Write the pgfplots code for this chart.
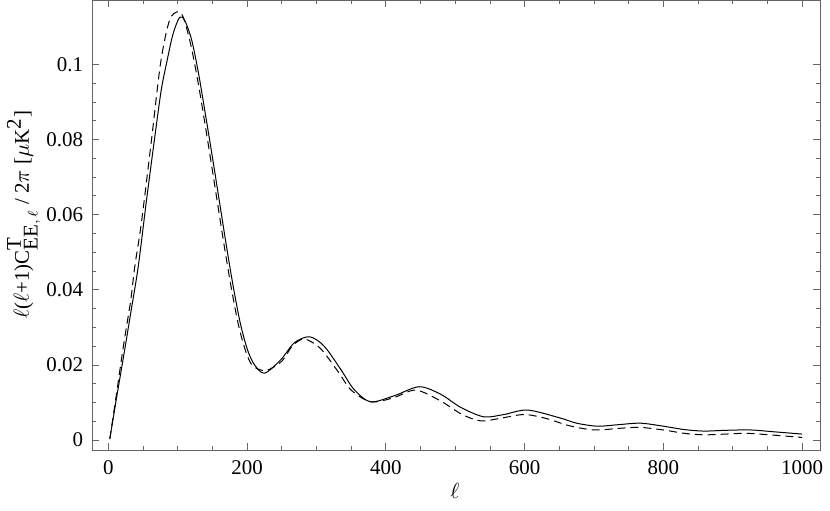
\documentclass[border=0pt]{standalone}
\usepackage{fontspec}
\setmainfont{Liberation Serif}
\usepackage{pgfplots}
\pgfplotsset{compat=1.18}
\usetikzlibrary{calc}
\begin{document}
\fontsize{10.5}{12.5}\selectfont
\begin{tikzpicture}
\begin{axis}[
  scale only axis,
  width=365pt, height=225.5pt,
  xmin=-23, xmax=1026,
  ymin=-0.00265, ymax=0.117,
  xtick={0,200,400,600,800,1000},
  xticklabels={0,200,400,600,800,1000},
  ytick={0,0.02,0.04,0.06,0.08,0.1},
  yticklabels={0,0.02,0.04,0.06,0.08,0.1},
  scaled y ticks=false,
  minor x tick num=3,
  minor y tick num=3,
  tick pos=both,
  tick align=inside,
  major tick length=3.5pt,
  minor tick length=2pt,
  axis line style={black!60, line width=0.5pt},
  every tick/.style={black!60, line width=0.4pt},
  /pgf/number format/assume math mode=true,
  tick label style={font=\fontsize{10.5}{12.5}\selectfont},
  xticklabel style={yshift=-1.5pt},
  yticklabel style={xshift=-1pt},
  every axis y label/.style={at={(axis description cs:-0.0945,0.523)}, rotate=90, anchor=center},
  every axis x label/.style={at={(axis description cs:0.498,0)}, anchor=center, yshift=-20.5pt},
  xlabel={$\ell$},
  ylabel={$\ell$($\ell$+1)C$^{\textrm{T}}_{\textrm{EE},\,\ell}$ / 2$\pi$ [$\mu$K$^{\textrm{2}}$]},
]
\addplot[black, line width=0.5pt, smooth, tension=0.5] coordinates {
(2,0.0003)(11.5,0.011)(23.5,0.0241)(33,0.0348)(43,0.0462)(55,0.064)(66,0.0795)
(76,0.093)(84,0.1005)(93,0.108)(102.6,0.1125)(110,0.1117)(120,0.1065)(130,0.0975)
(140,0.0865)(150,0.0752)(160,0.0635)(170,0.0518)(180,0.0408)(190,0.0312)(200,0.0243)
(210,0.0202)(225,0.0178)(249,0.0215)(268,0.0259)(290,0.0275)(311,0.025)(335,0.0188)
(354,0.0135)(378,0.0102)(412,0.0118)(448,0.0142)(479,0.0122)(508,0.0087)
(541,0.0062)(570,0.0068)(604,0.008)(649,0.006)(675,0.0045)(705,0.0037)(735,0.0041)
(767,0.0045)(800,0.0037)(830,0.0028)(858,0.0024)(890,0.0026)(925,0.0027)
(960,0.0022)(1000,0.0016)
};
\addplot[black, line width=0.5pt, dashed, dash pattern=on 4pt off 2.5pt, smooth, tension=0.5] coordinates {
(2,0.0003)(11,0.0115)(22,0.0255)(32,0.037)(38,0.0462)(47.5,0.0578)(62,0.0798)
(75.3,0.1005)(88,0.1117)(100,0.114)(108,0.1125)(118,0.1058)(128,0.0965)(138,0.0855)
(148,0.0740)(158,0.0622)(168,0.0505)(178,0.0396)(188,0.0302)(198,0.0236)(208,0.0198)
(227,0.0185)(250,0.021)(265,0.025)(282,0.0269)(305,0.0245)(330,0.0185)(350,0.0133)
(378,0.0102)(410,0.0112)(443,0.0133)(479,0.0104)(510,0.0068)(537,0.0051)
(565,0.0058)(599,0.0068)(630,0.0058)(665,0.0038)(700,0.0027)(735,0.0031)
(765,0.0034)(800,0.0027)(830,0.0018)(858,0.0014)(890,0.0016)(920,0.0018)
(960,0.0013)(1000,0.0007)
};
\end{axis}
\path (current axis.south west) ++(-45.5pt,-30.5pt) rectangle ($(current axis.north east)+(4.5pt,0pt)$);
\end{tikzpicture}
\end{document}
